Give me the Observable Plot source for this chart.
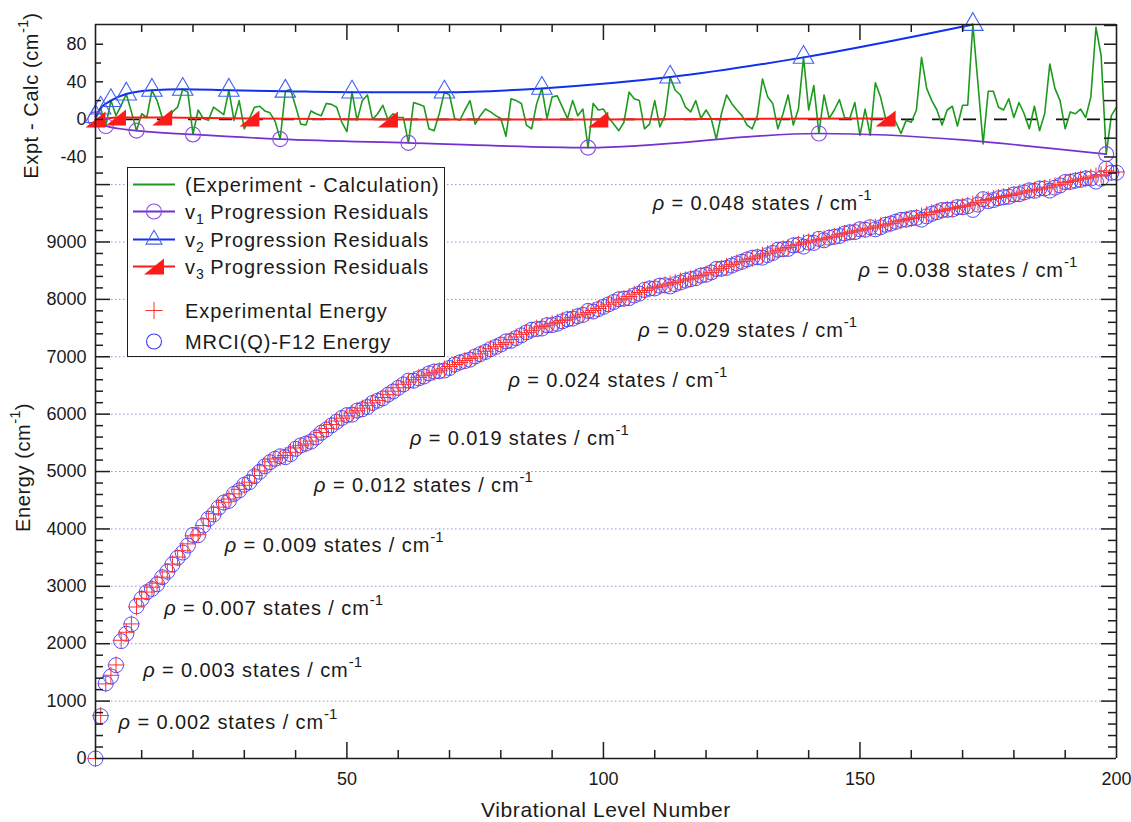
<!DOCTYPE html>
<html>
<head>
<meta charset="utf-8">
<script src="https://cdn.jsdelivr.net/npm/d3@7"></script>
<script src="https://cdn.jsdelivr.net/npm/@observablehq/plot@0.6"></script>
<style>
  body { margin: 0; background: #fff; }
  #chart { position: relative; width: 1131px; height: 822px; font-family: "Liberation Sans", Arial, sans-serif; color: #1a1a1a; }
  #chart > svg { position: absolute; left: 0; top: 0; }
  #legend { position: absolute; left: 127px; top: 167px; width: 318px; height: 190px; box-sizing: border-box;
            border: 1.5px solid #1e1e1e; background: #fff; font-size: 20px; letter-spacing: 0.9px; }
  #legend .row { position: absolute; left: 57px; height: 24px; line-height: 24px; white-space: nowrap; }
  #legend sub { font-size: 14px; vertical-align: -5px; line-height: 0; letter-spacing: 0; }
  #legend svg { position: absolute; left: 0; top: 0; }
</style>
</head>
<body>
<div id="chart"></div>
<script>
// ---------------- data ----------------
const levels = d3.range(1, 201);

const exptEnergy = [
  0, 750, 1300, 1450, 1630, 2060, 2200, 2345, 2640, 2790,
  2900, 2985, 3055, 3160, 3250, 3390, 3510, 3620, 3740, 3880,
  3900, 4060, 4175, 4265, 4380, 4465, 4520, 4610, 4690, 4760,
  4815, 4930, 5010, 5100, 5170, 5220, 5245, 5280, 5335, 5410,
  5450, 5480, 5530, 5600, 5680, 5750, 5820, 5880, 5930, 5970,
  6020, 6060, 6105, 6150, 6195, 6240, 6290, 6340, 6400, 6460,
  6520, 6560, 6600, 6640, 6670, 6700, 6730, 6755, 6790, 6830,
  6865, 6900, 6935, 6970, 7000, 7050, 7095, 7140, 7175, 7215,
  7250, 7300, 7345, 7390, 7420, 7460, 7500, 7525, 7550, 7575,
  7600, 7630, 7655, 7685, 7710, 7740, 7770, 7805, 7840, 7880,
  7915, 7950, 7990, 8010, 8050, 8090, 8120, 8155, 8185, 8210,
  8230, 8250, 8270, 8295, 8320, 8340, 8360, 8390, 8415, 8440,
  8470, 8510, 8540, 8575, 8605, 8635, 8660, 8690, 8715, 8740,
  8770, 8795, 8825, 8855, 8880, 8905, 8935, 8960, 8985, 9000,
  9020, 9040, 9055, 9075, 9100, 9125, 9150, 9170, 9190, 9205,
  9225, 9240, 9260, 9280, 9300, 9325, 9350, 9370, 9390, 9410,
  9430, 9455, 9480, 9510, 9530, 9550, 9570, 9580, 9600, 9620,
  9640, 9660, 9690, 9720, 9740, 9760, 9775, 9790, 9810, 9830,
  9850, 9870, 9890, 9905, 9920, 9940, 9955, 9980, 10005, 10035,
  10055, 10075, 10095, 10110, 10130, 10150, 10170, 10240, 10210, 10220
];

const exptMinusCalc = [
  0, 12, -7, 20, 4, 15, 27, 8, -12, 6,
  2, 31, 20, 2, -5, 8, 13, 32, 29, -16,
  10, 1, -1, 13, 9, 5, 31, -1, 20, -10,
  1, 13, 14, 9, 7, -2, -21, 30, 32, 14,
  -5, -6, 9, 6, 4, 17, 16, 13, -3, -13,
  29, -1, 20, 26, 0, 6, 15, 0, 6, 2,
  2, -25, 18, 16, 14, -10, -12, 6, 29, 26,
  1, -1, 10, 20, -5, 4, 11, 8, 4, 1,
  -18, 22, 20, 17, -6, -10, 17, 33, 1, 24,
  25, 13, 1, 20, 4, 11, -30, 17, 10, 11,
  2, -5, -12, -3, 29, 22, 20, -10, -5, 20,
  -8, 4, 45, 31, 26, 13, 8, 20, 1, 10,
  1, -21, 6, 26, 17, 10, 4, -6, -10, 4,
  43, 24, 17, -10, 6, 26, -6, 11, 66, 10,
  36, -15, 26, 1, 10, 21, 2, 1, 18, -17,
  11, -17, 39, 24, 1, 4, -3, -15, -1, -3,
  10, 66, 33, 20, 10, -6, 10, 14, -7, 15,
  15, 101, 38, -26, 30, 30, 13, 10, 22, 2,
  18, 6, -10, 14, -12, 6, 59, 33, 20, -10,
  8, 6, 11, 2, 24, 98, 68, -37, 4, 13
];

const v1Levels = [1, 3, 9, 20, 37, 62, 97, 142, 198];
const v1Resid  = [0, -7, -12, -16, -21, -25, -30, -15, -37];
const v2Levels = [1, 2, 4, 7, 12, 18, 27, 38, 51, 69, 88, 113, 139, 172];
const v2Resid  = [3, 12, 20, 27, 31, 32, 31, 30, 29, 29, 33, 45, 66, 101];
const v3Levels = [1, 5, 14, 31, 58, 99, 155];
const v3Resid  = [0, 2, 2, 1, 0, 0, 1];

const rhoValues = ["0.002", "0.003", "0.007", "0.009", "0.012", "0.019", "0.024", "0.029", "0.038", "0.048"];
const rhoLevel  = [5.5, 10.3, 14.4, 26.2, 43.6, 62.3, 81.5, 106.8, 149.7, 109.6];
const rhoEnergy = [630, 1535, 2615, 3710, 4755, 5580, 6585, 7460, 8500, 9670];

const xTickLabels = [50, 100, 150, 200];
const yTopTickLabels = [-40, 0, 40, 80];
const yBottomTickLabels = [0, 1000, 2000, 3000, 4000, 5000, 6000, 7000, 8000, 9000];
const gridEnergies = [1000, 2000, 3000, 4000, 5000, 6000, 7000, 8000, 9000, 10000];

const topTitle = "Expt - Calc (cm";
const energyTitle = "Energy (cm";
const xTitle = "Vibrational Level Number";

const legendLabels = [
  "(Experiment - Calculation)",
  "v<sub>1</sub> Progression Residuals",
  "v<sub>2</sub> Progression Residuals",
  "v<sub>3</sub> Progression Residuals",
  "Experimental Energy",
  "MRCI(Q)-F12 Energy"
];

// MRCI(Q)-F12 (calculated) energies follow from Expt - Calc
const calcEnergy = exptEnergy.map((e, i) => e - exptMinusCalc[i]);

// ---------------- styles ----------------
const FONT = '"Liberation Sans", Arial, sans-serif';
const AX = "#1e1e1e";
const GREEN = "#1c9a1c";
const PURPLE = "#7530d0";
const PURPLE_M = "#8a4ce0";
const BLUE = "#1030ee";
const BLUE_M = "#4060f2";
const RED = "#ff1a1a";
const E_BLUE = "#3a3aff";
const E_RED = "#ff3030";
const GRID = "#9090f0";

const W = 1131, H = 822, ML = 95, MR = 15;
const FW = W - ML - MR;
const TOP_MT = 24, TOP_MB = 658, TOP_H = H - TOP_MT - TOP_MB;
const BOT_MT = 164, BOT_MB = 64, BOT_H = H - BOT_MT - BOT_MB;

// half-filled right triangle marker (Igor style)
const halfTriangle = {
  draw(ctx, size) {
    const r = Math.sqrt(size / Math.PI);
    ctx.moveTo(-r, 0.8 * r);
    ctx.lineTo(r, 0.8 * r);
    ctx.lineTo(r, -0.8 * r);
    ctx.closePath();
  }
};

const xMinor = d3.range(10, 200, 10).filter(v => v % 50 !== 0);
const xMajor = [50, 100, 150];

function ticksX(vals, len, h, side) {
  return Plot.tickX(vals, {stroke: AX, strokeWidth: 1.5,
    insetTop: side === "bottom" ? h - len : 0,
    insetBottom: side === "top" ? h - len : 0});
}
function ticksY(vals, len, side) {
  return Plot.tickY(vals, {stroke: AX, strokeWidth: 1.5,
    insetLeft: side === "right" ? FW - len : 0,
    insetRight: side === "left" ? FW - len : 0});
}

// ---------------- top panel: residuals ----------------
const topPlot = Plot.plot({
  width: W, height: H,
  marginLeft: ML, marginRight: MR, marginTop: TOP_MT, marginBottom: TOP_MB,
  style: {background: "transparent", fontFamily: FONT, fontSize: "18px", color: "#1a1a1a", overflow: "visible"},
  x: {domain: [1, 200], axis: null},
  y: {domain: [-48, 101], ticks: yTopTickLabels, tickSize: 0, tickPadding: 9, tickFormat: d => String(d), label: null},
  marks: [
    Plot.ruleY([0], {stroke: "#111", strokeWidth: 1.6, strokeDasharray: "13,18"}),
    Plot.line(levels, {x: levels, y: exptMinusCalc, stroke: GREEN, strokeWidth: 1.6}),
    Plot.line(v1Levels, {x: v1Levels, y: v1Resid, stroke: PURPLE, strokeWidth: 1.7, curve: "monotone-x"}),
    Plot.line(v2Levels, {x: v2Levels, y: v2Resid, stroke: BLUE, strokeWidth: 2, curve: "monotone-x"}),
    Plot.line(v3Levels, {x: v3Levels, y: v3Resid, stroke: RED, strokeWidth: 2}),
    Plot.dot(v1Levels, {x: v1Levels, y: v1Resid, r: 7.5, stroke: PURPLE_M, strokeWidth: 1.1, fill: "none"}),
    Plot.dot(v2Levels, {x: v2Levels, y: v2Resid, symbol: "triangle", r: 7.6, stroke: BLUE_M, strokeWidth: 1.1, fill: "none"}),
    Plot.dot(v3Levels, {x: v3Levels, y: v3Resid, symbol: halfTriangle, r: 10, fill: RED, stroke: "none"}),
    Plot.ruleX([1, 200], {stroke: AX, strokeWidth: 1.6}),
    Plot.ruleY([101], {stroke: AX, strokeWidth: 1.6}),
    ticksX(xMinor, 8, TOP_H, "top"),
    ticksX(xMajor, 16, TOP_H, "top"),
    ticksY(yTopTickLabels, 8, "left"),
    ticksY([-20, 20, 60], 6, "left"),
    ticksY(d3.range(-40, 101, 20), 12, "right"),
    Plot.text([topTitle], {frameAnchor: "left", textAnchor: "middle", rotate: -90, dx: -64, dy: 1, fontSize: 20})
  ]
});

// ---------------- bottom panel: energies ----------------
const energyMinor = d3.range(200, 10350, 200).filter(v => v % 1000 !== 0);
const botPlot = Plot.plot({
  width: W, height: H,
  marginLeft: ML, marginRight: MR, marginTop: BOT_MT, marginBottom: BOT_MB,
  style: {background: "transparent", fontFamily: FONT, fontSize: "18px", color: "#1a1a1a", overflow: "visible"},
  x: {domain: [1, 200], ticks: xTickLabels, tickSize: 0, tickPadding: 14, tickFormat: d => String(d), label: null},
  y: {domain: [0, 10350], ticks: yBottomTickLabels, tickSize: 0, tickPadding: 9, tickFormat: d => String(d), label: null},
  marks: [
    Plot.ruleY(gridEnergies, {stroke: GRID, strokeWidth: 1, strokeDasharray: "1.5,2.5"}),
    Plot.dot(levels, {x: levels, y: calcEnergy, r: 7.5, stroke: E_BLUE, strokeWidth: 0.9, fill: "none"}),
    Plot.dot(levels, {x: levels, y: exptEnergy, symbol: "plus", r: 5.5, stroke: E_RED, strokeWidth: 1, fill: "none"}),
    Plot.ruleX([1, 200], {stroke: AX, strokeWidth: 1.6}),
    Plot.ruleY([0], {stroke: AX, strokeWidth: 1.6}),
    ticksX(xMinor, 8, BOT_H, "bottom"),
    ticksX(xMajor, 16, BOT_H, "bottom"),
    ticksY(gridEnergies, 15, "left"),
    ticksY(energyMinor, 8, "left"),
    ticksY(gridEnergies, 15, "right"),
    ticksY(energyMinor, 8, "right"),
    Plot.text(rhoValues, {x: rhoLevel, y: rhoEnergy, text: d => d, textAnchor: "start", fontSize: 20, fill: "#1a1a1a"}),
    Plot.text([energyTitle], {frameAnchor: "left", textAnchor: "middle", rotate: -90, dx: -72, dy: 6, fontSize: 20}),
    Plot.text([xTitle], {frameAnchor: "bottom", dy: 58, fontSize: 21})
  ]
});

// ---------------- superscripts / italic rho ----------------
function supTail(t, tail) {
  t.append("tspan").attr("dy", -10).attr("font-size", 15).style("letter-spacing", "0px").text("-1");
  if (tail) t.append("tspan").attr("dy", 10).text(tail);
}
function textsMatching(svg, pred) {
  return d3.select(svg).selectAll("text").filter(function () { return pred(this.textContent); });
}
textsMatching(botPlot, s => rhoValues.includes(s)).each(function () {
  const t = d3.select(this);
  const v = this.textContent;
  t.text(null).style("white-space", "pre").style("letter-spacing", "0.9px");
  t.append("tspan").attr("font-style", "italic").text("\u03c1");
  t.append("tspan").text(" = " + v + " states / cm");
  supTail(t, null);
});
for (const [plot, title] of [[topPlot, topTitle], [botPlot, energyTitle]]) {
  textsMatching(plot, s => s === title).each(function () {
    const t = d3.select(this);
    t.text(null).style("white-space", "pre").style("letter-spacing", "0.6px");
    t.append("tspan").text(title);
    supTail(t, ")");
  });
}
textsMatching(botPlot, s => s === xTitle).style("letter-spacing", "0.6px");

// ---------------- assemble ----------------
const chart = document.getElementById("chart");
chart.appendChild(topPlot);
chart.appendChild(botPlot);

// ---------------- legend ----------------
const legend = document.createElement("div");
legend.id = "legend";
chart.appendChild(legend);
const rowY = [18, 45, 73, 100, 144, 175];
const lsvg = d3.select(legend).append("svg").attr("width", 55).attr("height", 188);
const sw = [
  {color: GREEN, line: true, marker: null},
  {color: PURPLE, line: true, marker: "circle", mcolor: PURPLE_M},
  {color: BLUE, line: true, marker: "triangle", mcolor: BLUE_M},
  {color: RED, line: true, marker: "half", mcolor: RED},
  {color: E_RED, line: false, marker: "plus", mcolor: E_RED},
  {color: E_BLUE, line: false, marker: "circle", mcolor: E_BLUE}
];
sw.forEach((s, i) => {
  const y = rowY[i] - 1.5;
  if (s.line) lsvg.append("line").attr("x1", 5).attr("x2", 47).attr("y1", y).attr("y2", y)
    .attr("stroke", s.color).attr("stroke-width", 1.8);
  const cx = 26;
  if (s.marker === "circle") lsvg.append("circle").attr("cx", cx).attr("cy", y).attr("r", 7.5)
    .attr("fill", "none").attr("stroke", s.mcolor).attr("stroke-width", 1.1);
  if (s.marker === "triangle") lsvg.append("path").attr("transform", `translate(${cx},${y})`)
    .attr("d", d3.symbol(d3.symbolTriangle2, 7.6 * 7.6 * Math.PI)()).attr("fill", "none")
    .attr("stroke", s.mcolor).attr("stroke-width", 1.1);
  if (s.marker === "half") lsvg.append("path").attr("transform", `translate(${cx},${y})`)
    .attr("d", d3.symbol(halfTriangle, 10 * 10 * Math.PI)()).attr("fill", s.mcolor);
  if (s.marker === "plus") lsvg.append("path").attr("transform", `translate(${cx},${y})`)
    .attr("d", d3.symbol(d3.symbolPlus, 5.5 * 5.5 * Math.PI)()).attr("fill", "none")
    .attr("stroke", s.mcolor).attr("stroke-width", 1);
  const row = document.createElement("div");
  row.className = "row";
  row.style.top = (rowY[i] - 12 - 1.5) + "px";
  row.innerHTML = legendLabels[i];
  legend.appendChild(row);
});
</script>
</body>
</html>
